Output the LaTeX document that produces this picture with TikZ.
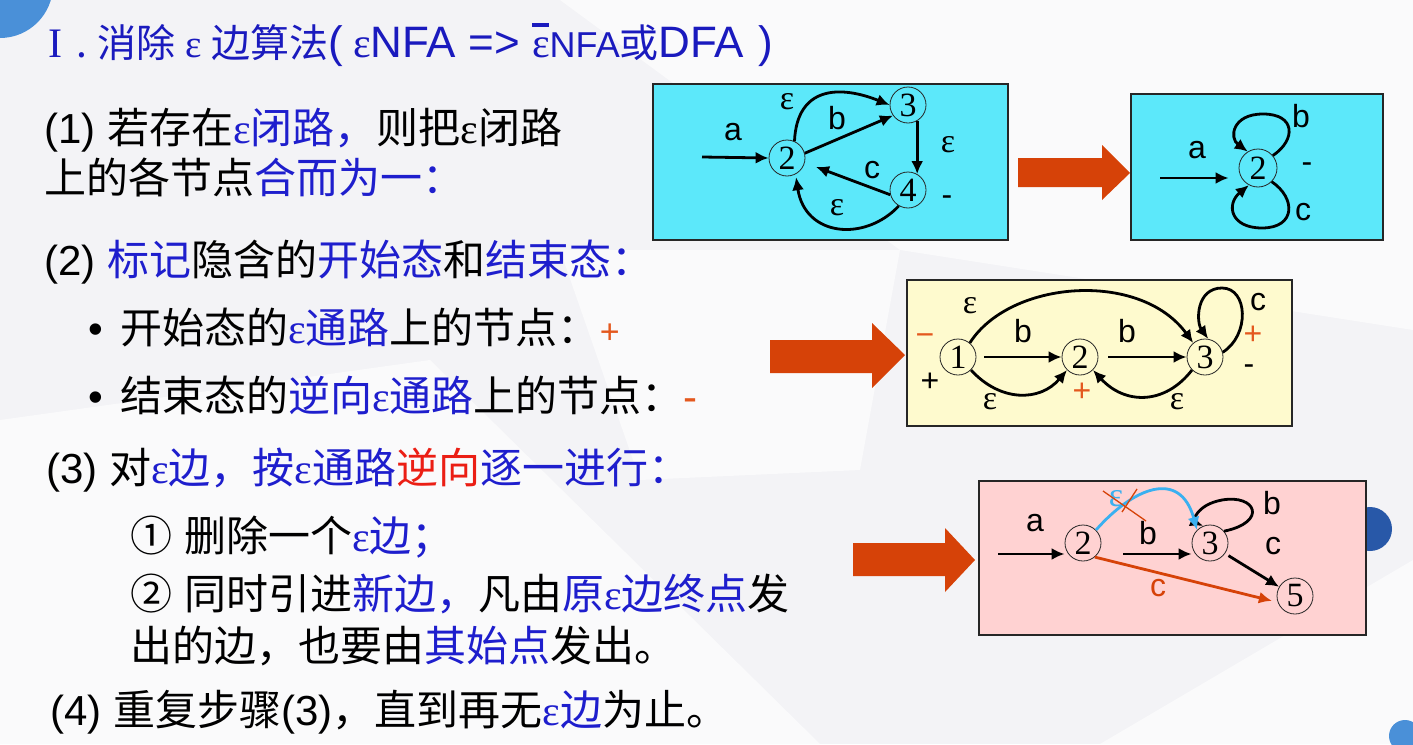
\documentclass[tikz,border=0pt]{standalone}
\usepackage{fontspec}
\usetikzlibrary{arrows.meta}
\newfontfamily\cjk{Noto Sans CJK SC}
\newfontfamily\lat{Liberation Sans}
\newfontfamily\serf{Liberation Serif}
\newcommand\Ep{{\serf ε}}
\newcommand\OvEp{\makebox[0pt][l]{\raisebox{30pt}{\rule{17pt}{4pt}}}{\serf ε}}
\definecolor{pagebg}{RGB}{243,243,246}
\definecolor{pagelite}{RGB}{250,250,251}
\definecolor{tb}{RGB}{30,30,205}
\definecolor{ttl}{RGB}{26,26,190}
\definecolor{tr}{RGB}{235,30,20}
\definecolor{tor}{RGB}{228,88,30}
\definecolor{blk}{RGB}{214,66,8}
\definecolor{cyanbox}{RGB}{92,232,250}
\definecolor{yelbox}{RGB}{254,250,206}
\definecolor{pinkbox}{RGB}{255,210,210}
\definecolor{skyarc}{RGB}{58,176,240}
\definecolor{dotA}{RGB}{74,144,216}
\definecolor{dotB}{RGB}{40,88,168}
\begin{document}
\begin{tikzpicture}[x=1pt,y=-1pt,
  txt/.style={anchor=base west, inner sep=0, font=\cjk\fontsize{42}{50}\selectfont},
  ttlstyle/.style={anchor=base west, inner sep=0, text=ttl, font=\cjk\fontsize{39}{46}\selectfont},
  state/.style={circle, draw=black!85, line width=0.8pt, inner sep=0, minimum size=36pt, font=\serf\fontsize{34}{34}\selectfont},
  lbl/.style={inner sep=0, font=\lat\fontsize{32}{32}\selectfont},
  elbl/.style={inner sep=0, font=\serf\fontsize{34}{34}\selectfont},
  edge/.style={line width=2.8pt, -{Latex[length=13pt,width=12pt]}},
  boxframe/.style={draw=black!85, line width=1.4pt},
  bigarrow/.style={fill=blk, draw=none}]
\useasboundingbox (0,0) rectangle (1413,744);

% page background with soft facets and dots
\fill[pagebg] (0,0) rectangle (1413,744);
\fill[pagelite] (560,0) -- (1413,0) -- (1413,330) -- (900,250) -- cycle;
\fill[pagelite] (0,420) -- (430,360) -- (820,744) -- (0,744) -- cycle;
\fill[pagelite] (560,250) -- (900,250) -- (860,470) -- (640,480) -- cycle;
\fill[pagelite] (1413,560) -- (1100,744) -- (1413,744) -- cycle;
\fill[dotA] (0,-15) circle (53pt);
\fill[dotB] (1370,529) circle (22pt);
\fill[dotA] (1405,736) circle (16pt);

% title
\node[ttlstyle] (title) at (48,57) {{\serf\fontsize{42}{46}\selectfont I}\hspace{14pt}.\hspace{10pt}消除\hspace{10pt}\Ep{}\hspace{10pt}边算法{\lat\fontsize{44}{50}\selectfont (\hspace{10pt}}{\serf\fontsize{42}{46}\selectfont ε}{\lat\fontsize{44}{50}\selectfont NFA => }{\serf\fontsize{42}{46}\selectfont\OvEp{}}{\lat\fontsize{36}{40}\selectfont NFA}或{\lat\fontsize{44}{50}\selectfont DFA\hspace{14pt})}};

% step texts
\node[txt] (l1) at (44,143) {{\lat (1) }若存在\textcolor{tb}{\Ep{}闭路，}则把\Ep{}闭路};
\node[txt] (l2) at (44,193) {上的各节点\textcolor{tb}{合而为一：}};
\node[txt] (l3) at (44,275) {{\lat (2) }\textcolor{tb}{标记}隐含的\textcolor{tb}{开始态}和\textcolor{tb}{结束态：}};
\node[txt] (b1) at (88,343) {{\lat •}};
\node[txt] (l4) at (120,343) {开始态的\textcolor{tb}{\Ep{}通路}上的节点：\textcolor{tor}{\lat\fontsize{34}{34}\selectfont +}};
\node[txt] (b2) at (88,411) {{\lat •}};
\node[txt] (l5) at (120,411) {结束态的\textcolor{tb}{逆向\Ep{}通路}上的节点：\textcolor{tor}{\lat -}};
\node[txt] (l6) at (46,483) {{\lat (3) }对\textcolor{tb}{\Ep{}边，按\Ep{}通路}\textcolor{tr}{逆向}\textcolor{tb}{逐一进行：}};
\node[txt] (l7) at (130,551) {①\hspace{12pt}删除一个\textcolor{tb}{\Ep{}边；}};
\node[txt] (l8) at (130,609) {②\hspace{12pt}同时引进\textcolor{tb}{新边，}凡由\textcolor{tb}{原\Ep{}边终点}发};
\node[txt] (l9) at (130,661) {出的边，也要由\textcolor{tb}{其始点}发出。};
\node[txt] (l10) at (50,725) {{\lat (4) }重复步骤{\lat (3)}，直到再无\textcolor{tb}{\Ep{}边}为止。};

% big transition arrows
\fill[bigarrow] (1018,158) -- (1102,158) -- (1102,145) -- (1130,173) -- (1102,200) -- (1102,187) -- (1018,187) -- cycle;
\fill[bigarrow] (770,340) -- (872,340) -- (872,323) -- (905,355) -- (872,388) -- (872,373) -- (770,373) -- cycle;
\fill[bigarrow] (853,543) -- (945,543) -- (945,528) -- (975,560) -- (945,592) -- (945,576) -- (853,576) -- cycle;

% ---- automaton 1: epsilon cycle
\fill[cyanbox] (653,84) rectangle (1008,240);
\draw[boxframe] (653,84) rectangle (1008,240);
\node[state] (n2) at (787,158) {2};
\node[state] (n3) at (908,105) {3};
\node[state] (n4) at (908,190) {4};
\coordinate (s1) at (702,157);
\draw[edge] (s1) -- (n2.west);
\draw[edge] (n2.66) .. controls (797,86) and (840,85) .. (n3.west);
\draw[edge] (n2.15) -- (n3.215);
\draw[edge] (n3.-60) -- (n4.60);
\draw[edge, shorten >=12pt] (n4.195) -- (n2.-15);
\draw[edge, shorten >=3pt] (n4.240) .. controls (865,242) and (805,237) .. (n2.-62);
\node[lbl] (a1) at (733,132) {a};
\node[elbl] (e1) at (787,102) {ε};
\node[lbl] (bl1) at (837,118) {b};
\node[elbl] (e2) at (948,145) {ε};
\node[lbl] (c1) at (872,170) {c};
\node[elbl] (e3) at (837,208) {ε};
\node[lbl] (m1) at (947,201) {-};

% ---- automaton 2: merged state
\fill[cyanbox] (1131,94) rectangle (1383,240);
\draw[boxframe] (1131,94) rectangle (1383,240);
\node[state, minimum size=38pt] (m2) at (1258,168) {2};
\coordinate (s2) at (1160,178);
\draw[edge, shorten >=10pt] (s2) -- (m2.west |- s2);
\draw[edge] (m2.40) .. controls (1296,140) and (1296,114) .. (1263,114) .. controls (1232,114) and (1229,138) .. (m2.122);
\draw[edge] (m2.-45) .. controls (1296,198) and (1296,228) .. (1262,228) .. controls (1230,228) and (1226,204) .. (m2.-118);
\node[lbl] (a2) at (1197,150) {a};
\node[lbl] (bl2) at (1301,116) {b};
\node[lbl] (c2) at (1303,212) {c};
\node[lbl] (m2l) at (1307,168) {-};

% ---- automaton 3: implicit start and final marks
\fill[yelbox] (907,280) rectangle (1292,426);
\draw[boxframe] (907,280) rectangle (1292,426);
\node[state] (p1) at (958,357) {1};
\node[state] (p2) at (1080,357) {2};
\node[state] (p3) at (1205,357) {3};
\draw[edge, shorten <=8pt] (p1) -- (p2);
\draw[edge, shorten <=10pt] (p2) -- (p3);
\draw[edge] (p1.50) .. controls (1010,280) and (1140,270) .. (p3.130);
\draw[edge] (p1.-45) .. controls (1000,402) and (1040,402) .. (p2.-135);
\draw[edge] (p3.-135) .. controls (1165,405) and (1125,405) .. (p2.-45);
\draw[edge] (p3.15) .. controls (1250,335) and (1248,288) .. (1222,288) .. controls (1196,288) and (1196,322) .. (p3.80);
\node[elbl] (e4) at (970,306) {ε};
\node[lbl] (bl3) at (1023,331) {b};
\node[lbl] (bl4) at (1127,331) {b};
\node[elbl] (e5) at (990,402) {ε};
\node[elbl] (e6) at (1177,402) {ε};
\node[lbl] (c3) at (1258,302) {c};
\node[lbl, text=tor] (pl3) at (1253,335) {+};
\node[lbl] (mi3) at (1249,370) {-};
\node[lbl, text=tor] (mi1) at (925,340) {−};
\node[lbl] (pl1) at (930,382) {+};
\node[lbl, text=tor] (pl2) at (1082,392) {+};

% ---- automaton 4: removing one epsilon edge
\fill[pinkbox] (979,481) rectangle (1366,635);
\draw[boxframe] (979,481) rectangle (1366,635);
\node[state] (q2) at (1083,543) {2};
\node[state] (q3) at (1210,543) {3};
\node[state] (q5) at (1295,596) {5};
\coordinate (s4) at (998,554);
\coordinate (t4) at (1123,554);
\draw[edge] (s4) -- (q2.west |- s4);
\draw[edge] (t4) -- (q3.west |- t4);
\draw[edge] (q3.40) .. controls (1268,522) and (1256,494) .. (1222,500) .. controls (1195,505) and (1194,522) .. (q3.112);
\draw[edge, shorten <=4pt] (q3.-35) -- (q5.150);
\draw[edge, draw=blk, -{Latex[length=13pt,width=12pt,fill=blk]}, shorten >=6pt] (q2.-50) -- (q5.200);
\draw[edge, draw=skyarc, -{Latex[length=13pt,width=12pt,fill=skyarc]}] (q2.45) .. controls (1133,488) and (1180,468) .. (q3.135);
\node[lbl] (a4) at (1035,523) {a};
\node[lbl] (bl5) at (1148,533) {b};
\node[lbl] (bl6) at (1272,503) {b};
\node[lbl] (c4) at (1273,546) {c};
\node[lbl, text=blk] (c5) at (1158,588) {c};
\node[elbl, text=skyarc] (e7) at (1116,499) {ε};
\draw[blk, line width=1.3pt] (1103,491) -- (1146,521);
\draw[blk, line width=1.3pt] (1137,489) -- (1122,512);
\end{tikzpicture}
\end{document}
